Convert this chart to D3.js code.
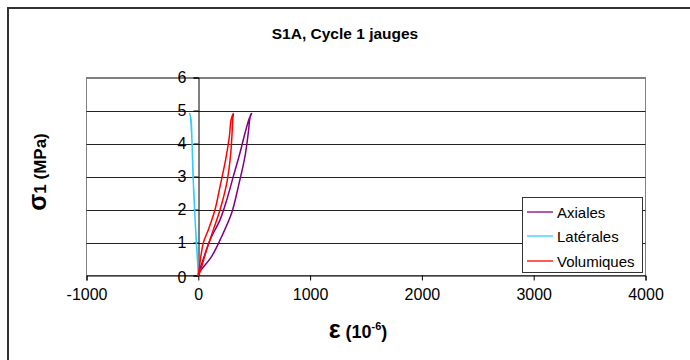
<!DOCTYPE html>
<html><head><meta charset="utf-8">
<script src="https://cdn.jsdelivr.net/npm/d3@7"></script>
<style>
body{margin:0;background:#fff;}
text{font-family:"Liberation Sans",Arial,sans-serif;}
</style></head>
<body><svg id="c" width="690" height="360"></svg>
<script>
const title = "S1A, Cycle 1 jauges";
const seriesNames = ["Axiales", "Latérales", "Volumiques"];
const seriesColors = ["#800080", "#33CCFF", "#FF0000"];
const xTicks = [-1000, 0, 1000, 2000, 3000, 4000];
const yTicks = [0, 1, 2, 3, 4, 5, 6];
const axialX = [0, 3, 33, 107, 196, 255, 314, 373, 418, 455, 477, 470, 462, 447, 418, 359, 299, 210, 121, 18, 0];
const axialY = [0, 0.08, 0.38, 1.09, 1.70, 2.30, 3.01, 3.72, 4.32, 4.75, 4.91, 4.88, 4.78, 4.32, 3.62, 2.71, 1.90, 1.19, 0.59, 0.13, 0];
const latX = [0, -6, -12, -27, -36, -47, -56, -65, -77, -72, -60, -50, -42, -30, -18, -8, -2, 0];
const latY = [0, 0.38, 0.79, 1.60, 2.30, 3.01, 4.02, 4.73, 4.91, 4.85, 4.30, 3.50, 2.60, 1.80, 1.00, 0.50, 0.10, 0];
const volX = [0, 3, 45, 90, 150, 195, 245, 278, 294, 314, 308, 302, 288, 255, 195, 135, 75, 22, 0];
const volY = [0, 0.08, 0.99, 1.39, 2.00, 2.71, 3.52, 4.22, 4.73, 4.91, 4.73, 4.32, 3.62, 2.81, 2.00, 1.39, 0.79, 0.18, 0];

const svg = d3.select("#c");
const L = 86.5, R = 645.5, T = 77.5, B = 275.5;
const x = d3.scaleLinear().domain([-1000, 4000]).range([L, R]);
const y = d3.scaleLinear().domain([0, 6]).range([B, T]);
const FONT = "Liberation Sans, Arial, sans-serif";

// outer frame
svg.append("rect").attr("x", 8).attr("y", 8).attr("width", 700).attr("height", 400)
  .attr("fill", "#fff").attr("stroke", "#333").attr("stroke-width", 2);

svg.append("text").attr("x", 345).attr("y", 39).attr("text-anchor", "middle")
  .attr("font-size", 15.5).attr("font-weight", "bold").text(title);

// plot area border
svg.append("rect").attr("x", L).attr("y", T).attr("width", R - L).attr("height", B - T)
  .attr("fill", "none").attr("stroke", "#808080").attr("stroke-width", 1);

// gridlines
svg.append("g").selectAll("line").data(yTicks.filter(d => d > 0)).join("line")
  .attr("x1", L).attr("x2", R).attr("y1", d => Math.round(y(d)) + 0.5).attr("y2", d => Math.round(y(d)) + 0.5)
  .attr("stroke", d => d === 6 ? "#808080" : "#222").attr("stroke-width", 1);

// x axis at y=0
const xAxis = d3.axisBottom(x).tickValues(xTicks).tickSize(5).tickPadding(8).tickFormat(d => String(d));
const gx = svg.append("g").attr("transform", `translate(0,${y(0)})`).call(xAxis);
gx.select(".domain").attr("stroke", "#000");
gx.selectAll(".tick line").attr("stroke", "#000");
gx.selectAll("text").attr("font-size", 16).attr("fill", "#000").style("font-family", FONT);

// y axis at x=0
const yAxis = d3.axisLeft(y).tickValues(yTicks).tickSize(5).tickPadding(7).tickFormat(d => String(d));
const gy = svg.append("g").attr("transform", `translate(${Math.round(x(0)) + 0.5},0)`).call(yAxis);
gy.select(".domain").attr("stroke", "#000");
gy.selectAll(".tick line").attr("stroke", "#000");
gy.selectAll("text").attr("font-size", 16).attr("fill", "#000").style("font-family", FONT);
gy.selectAll(".tick").filter(d => d === 0).select("text").attr("dy", "0.45em");

// series
const series = [
  {xs: axialX, ys: axialY},
  {xs: latX, ys: latY},
  {xs: volX, ys: volY}
];
const line = d3.line().x(d => x(d[0])).y(d => y(d[1])).curve(d3.curveCatmullRom.alpha(0.5));
series.forEach((s, i) => {
  const pts = s.xs.map((v, j) => [v, s.ys[j]]);
  svg.append("path").attr("d", line(pts)).attr("fill", "none")
    .attr("stroke", seriesColors[i]).attr("stroke-width", 1.5);
});

// legend
const lg = svg.append("g");
lg.append("rect").attr("x", 522.5).attr("y", 197.5).attr("width", 120).attr("height", 75)
  .attr("fill", "#fff").attr("stroke", "#333").attr("stroke-width", 1);
const ly = [212, 236, 261];
seriesNames.forEach((n, i) => {
  lg.append("line").attr("x1", 527).attr("x2", 553).attr("y1", ly[i]).attr("y2", ly[i])
    .attr("stroke", seriesColors[i]).attr("stroke-width", 1.3);
  lg.append("text").attr("x", 557).attr("y", ly[i] + 5.5).attr("font-size", 15).text(n);
});

// y label
const yl = svg.append("text").attr("transform", "translate(46,172) rotate(-90)")
  .attr("text-anchor", "middle").attr("font-weight", "bold").attr("font-size", 17);
yl.append("tspan").attr("font-size", 25).text("σ");
yl.append("tspan").text("1 (MPa)");

// x label
const xl = svg.append("text").attr("x", 358).attr("y", 338).attr("text-anchor", "middle")
  .attr("font-weight", "bold").attr("font-size", 18);
xl.append("tspan").attr("font-size", 25).text("ε");
xl.append("tspan").text(" (10");
xl.append("tspan").attr("font-size", 11).attr("dy", -8).text("-6");
xl.append("tspan").attr("dy", 8).text(")");
</script></body></html>
